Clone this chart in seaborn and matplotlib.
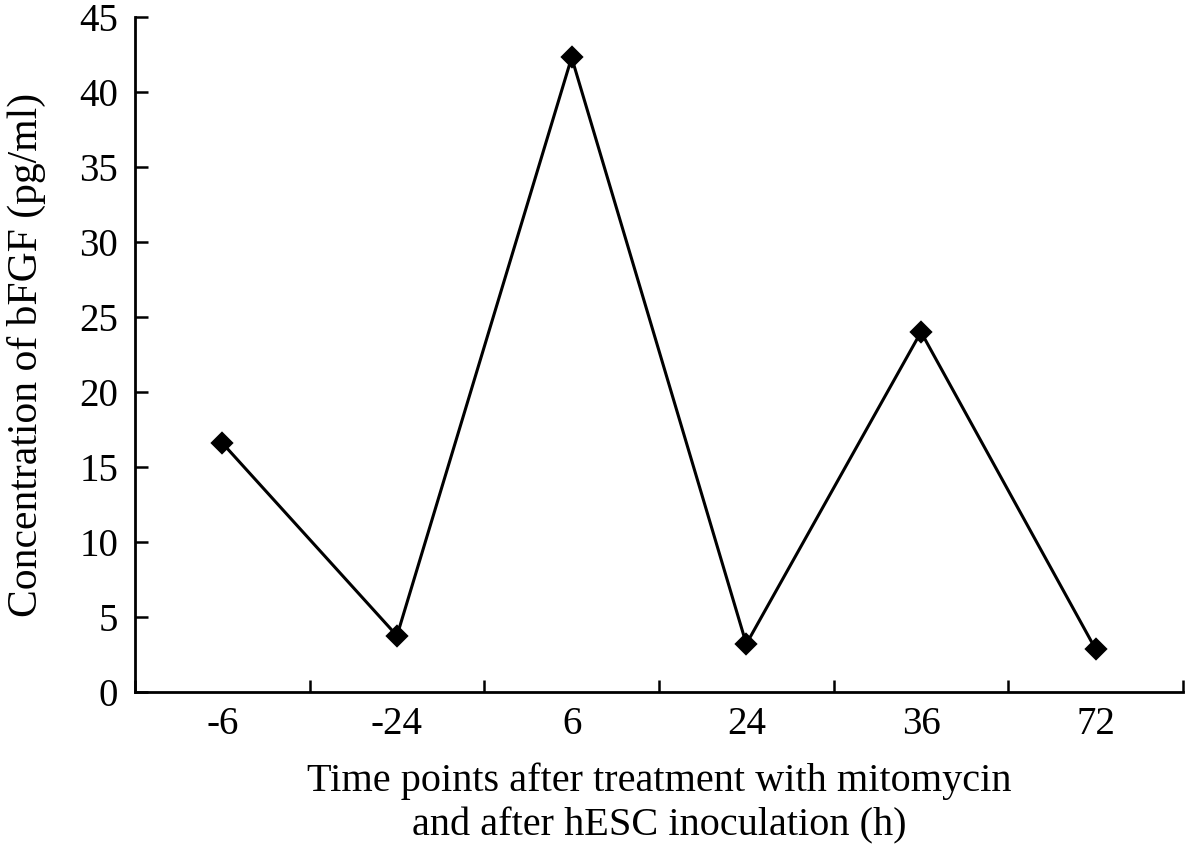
import matplotlib
matplotlib.use("Agg")
import matplotlib.pyplot as plt
import seaborn as sns
import pandas as pd

time_points = ["-6", "-24", "6", "24", "36", "72"]
concentration = [16.6, 3.75, 42.3, 3.2, 24.0, 2.85]
y_ticks = [0, 5, 10, 15, 20, 25, 30, 35, 40, 45]

sns.set_theme(style="ticks")
plt.rcParams["font.family"] = ["Liberation Serif", "DejaVu Serif"]
plt.rcParams["text.color"] = "black"
plt.rcParams["axes.labelcolor"] = "black"
plt.rcParams["xtick.color"] = "black"
plt.rcParams["ytick.color"] = "black"

df = pd.DataFrame({"time": time_points, "conc": concentration})

fig = plt.figure(figsize=(11.88, 8.57), dpi=100)
ax = fig.add_axes([0.1136, 0.1925, 0.9958 - 0.1136, 0.9802 - 0.1925])

sns.pointplot(data=df, x="time", y="conc", order=time_points, color="black",
              markers="D", linestyles="-", ax=ax, errorbar=None,
              linewidth=2.2, markersize=10)

n = len(time_points)
ax.set_xlim(-0.5, n - 0.5)
ax.set_ylim(0, 45)
ax.set_yticks(y_ticks)
ax.set_yticklabels([str(v) for v in y_ticks])
ax.set_xticks(range(n))
ax.set_xticklabels(time_points)
ax.set_xticks([i - 0.5 for i in range(n + 1)], minor=True)
ax.tick_params(axis="x", which="major", length=0, pad=10, labelsize=28, labelcolor="black")
ax.tick_params(axis="x", which="minor", direction="in", length=9, width=1.8, color="black")
ax.tick_params(axis="y", which="major", direction="in", length=9, width=1.8, pad=12,
               labelsize=28, color="black", labelcolor="black")

for s in ["top", "right"]:
    ax.spines[s].set_visible(False)
for s in ["left", "bottom"]:
    ax.spines[s].set_linewidth(2.0)
    ax.spines[s].set_color("black")

ax.set_xlabel("Time points after treatment with mitomycin\nand after hESC inoculation (h)",
              fontsize=29, labelpad=14, linespacing=1.25, color="black")
ax.set_ylabel("Concentration of bFGF (pg/ml)", fontsize=30, labelpad=24, color="black")

fig.savefig("out.png", dpi=100)
